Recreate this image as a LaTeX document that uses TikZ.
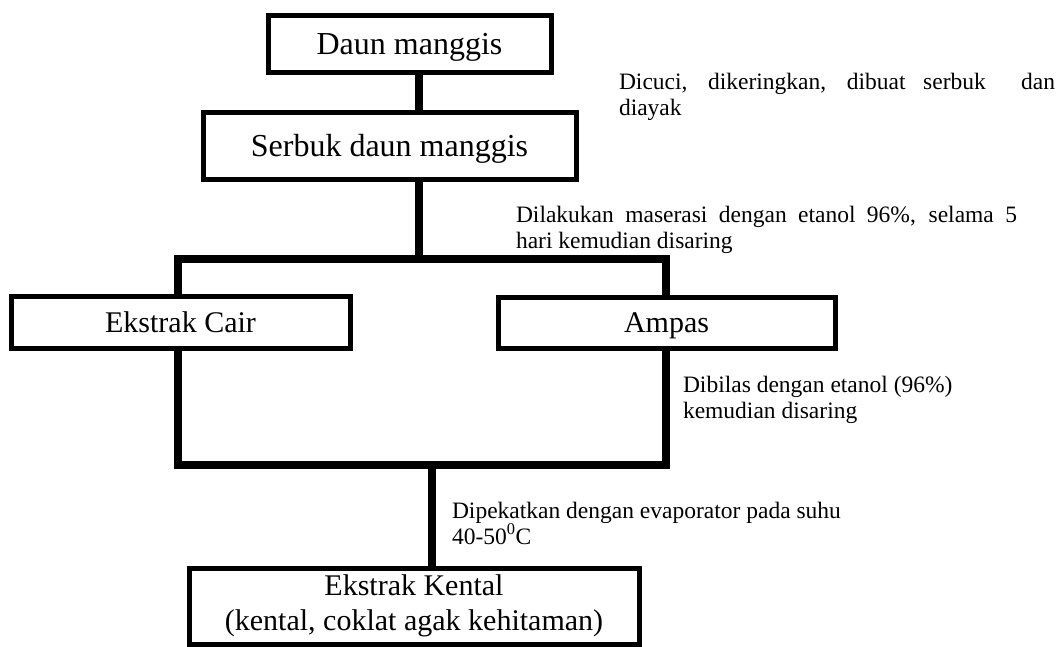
\documentclass[tikz,border=0pt]{standalone}
\usepackage{fontspec}
\setmainfont{Liberation Serif}
\begin{document}
\begin{tikzpicture}[x=1pt,y=-1pt,
  box/.style={draw, line width=5pt, inner sep=0pt, outer sep=0pt, align=center},
  bigtext/.style={font=\fontsize{32}{36}\selectfont, text height=21pt, text depth=0pt},
  midtext/.style={font=\fontsize{30}{34}\selectfont, text height=20pt, text depth=0pt},
  conn/.style={line width=7.5pt, line join=miter},
  note/.style={anchor=base west, inner sep=0pt, outer sep=0pt, align=left, font=\fontsize{23.5}{25.5}\selectfont}]
\useasboundingbox (0,0) rectangle (1062,646);
% boxes
\node[box, bigtext, minimum width=283pt, minimum height=57pt] (daun) at (409.5,43.5) {Daun manggis};
\node[box, bigtext, minimum width=373pt, minimum height=67pt] (serbuk) at (389.5,146) {Serbuk daun manggis};
\node[box, midtext, minimum width=339pt, minimum height=52pt] (cair) at (180.5,322) {Ekstrak Cair};
\node[box, midtext, minimum width=337pt, minimum height=51pt] (ampas) at (666.5,322.5) {Ampas};
\node[box, font=\fontsize{30}{35}\selectfont, minimum width=450pt, minimum height=76pt] (kental) at (414,606) {Ekstrak Kental\\(kental, coklat agak kehitaman)};
% helper coordinates
\coordinate (c1) at (419,259);
\coordinate (c2) at (432,465);
\coordinate (xl) at (178,0);
\coordinate (xr) at (666,0);
% connectors
\draw[conn] (daun.south -| c1) -- (serbuk.north -| c1);
\draw[conn] (serbuk.south -| c1) -- (c1);
\draw[conn] (cair.north -| xl) |- (c1) -| (ampas.north -| xr);
\draw[conn] (cair.south -| xl) |- (c2) -| (ampas.south -| xr);
\draw[conn] (c2) -- (kental.north -| c2);
% notes (base anchor = baseline of the last line)
\node[note] (n1) at (619,115) {\makebox[436pt][s]{Dicuci, dikeringkan, dibuat serbuk\ \ dan}\\diayak};
\node[note] (n2) at (516,248) {\makebox[501pt][s]{Dilakukan maserasi dengan etanol 96\%, selama 5}\\hari kemudian disaring};
\node[note] (n3) at (683,418) {Dibilas dengan etanol (96\%)\\kemudian disaring};
\node[note] (n4) at (452,544) {Dipekatkan dengan evaporator pada suhu\\40-50\textsuperscript{0}C};
\end{tikzpicture}
\end{document}
